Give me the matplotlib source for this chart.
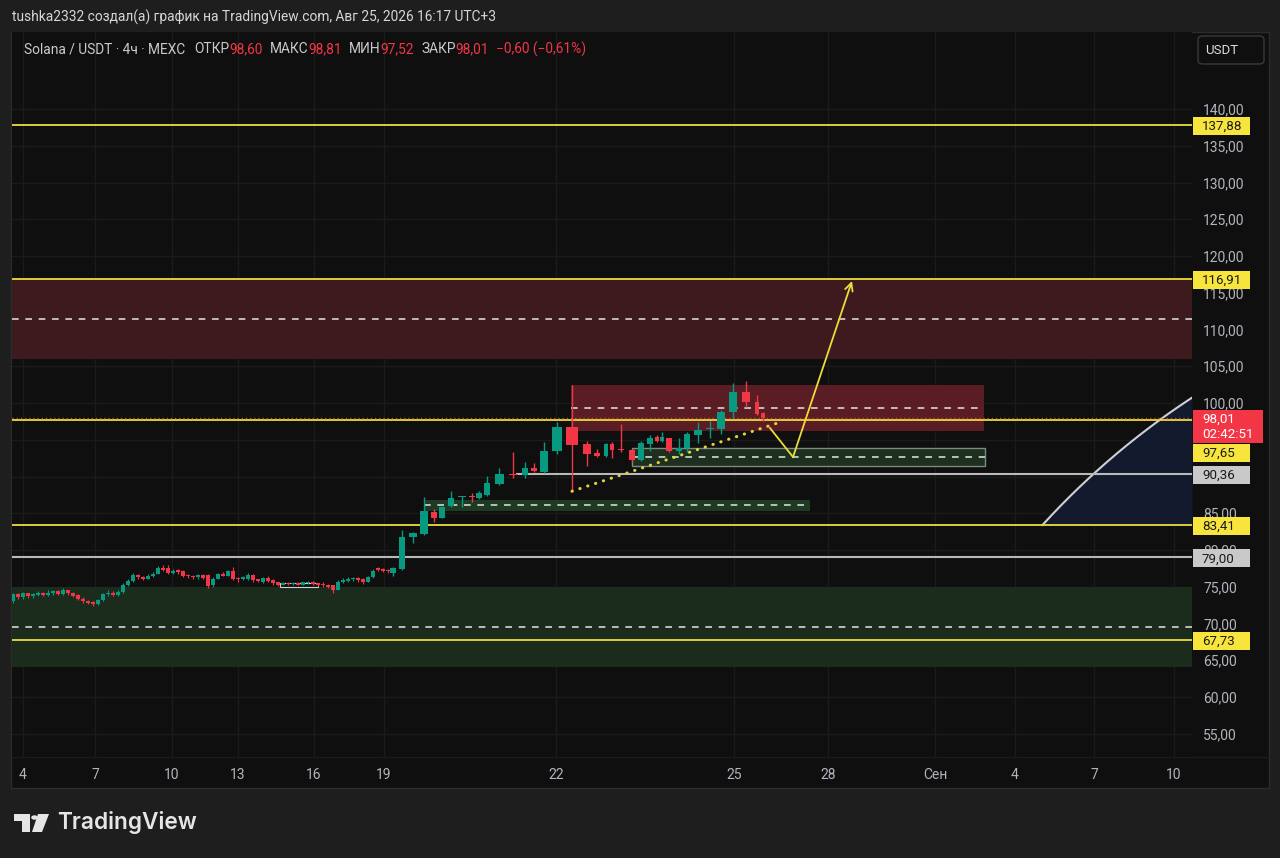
import numpy as np
import matplotlib
matplotlib.use('Agg')
import matplotlib.pyplot as plt
from matplotlib.patches import Rectangle, FancyBboxPatch, Polygon, Circle

plt.rcParams['font.family'] = ['Roboto', 'DejaVu Sans']

W, H = 1280, 858

# ---------------- data ----------------
early_open = [73.0, 74.0, 73.6, 74.1, 73.7, 73.9, 74.2, 73.9, 74.1, 74.4, 74.0, 74.5, 74.1, 73.9, 73.4, 73.1,
              72.9, 72.7, 73.2, 74.0, 74.2, 73.9, 74.3, 75.3, 75.8, 76.6, 76.3, 76.1, 76.5, 76.8, 77.5, 77.6,
              76.9, 77.3, 77.2, 76.6, 76.5, 76.3, 76.6, 76.6, 75.2, 76.1, 76.8, 76.5, 77.2, 76.2, 76.0, 76.0,
              76.6, 76.0, 75.7, 76.2, 75.9, 75.6, 75.3, 75.5, 75.4, 75.5, 75.3, 75.5, 75.7, 75.4, 75.4, 75.3,
              75.2, 74.6, 75.7, 75.8, 76.0, 76.2, 76.1, 75.7, 76.3, 77.5, 77.4, 77.3]
early_high = [74.2, 74.2, 74.3, 74.2, 74.2, 74.4, 74.3, 74.5, 74.6, 74.5, 74.8, 74.6, 74.3, 74.0, 73.6, 73.2,
              73.0, 73.3, 74.1, 74.6, 74.4, 74.5, 75.5, 76.0, 76.9, 76.8, 76.5, 76.7, 77.0, 77.8, 77.9, 77.9,
              77.4, 77.4, 77.3, 76.8, 76.6, 76.8, 76.7, 76.7, 76.3, 76.9, 77.0, 77.3, 77.7, 76.3, 76.5, 76.9,
              76.8, 76.1, 76.3, 76.4, 76.0, 75.7, 75.6, 75.6, 75.7, 75.6, 75.7, 75.8, 75.8, 75.5, 75.6, 75.4,
              75.3, 75.9, 76.2, 76.3, 76.3, 76.3, 76.2, 76.5, 77.4, 77.7, 77.5, 77.4]
early_low = [72.8, 73.4, 73.4, 73.5, 73.5, 73.7, 73.8, 73.8, 73.9, 73.9, 73.9, 73.9, 73.6, 73.2, 72.8, 72.6,
             72.4, 72.5, 73.0, 73.8, 73.7, 73.8, 74.2, 75.1, 75.6, 76.1, 75.9, 76.0, 76.3, 76.7, 77.1, 76.7,
             76.8, 76.7, 76.3, 76.2, 76.1, 76.1, 76.0, 74.9, 75.0, 76.0, 76.4, 76.4, 75.9, 75.7, 75.9, 75.9,
             75.6, 75.6, 75.5, 75.6, 75.3, 75.1, 75.2, 75.2, 75.3, 75.2, 75.2, 75.4, 75.2, 75.1, 75.0, 74.9,
             74.2, 74.5, 75.5, 75.6, 75.8, 75.7, 75.4, 75.6, 76.2, 77.2, 77.0, 76.9]
early_close = [74.0, 73.6, 74.1, 73.7, 74.0, 74.2, 73.9, 74.2, 74.4, 74.0, 74.6, 74.1, 73.8, 73.4, 73.0, 72.8,
               72.6, 73.2, 74.0, 74.2, 73.9, 74.3, 75.3, 75.8, 76.6, 76.3, 76.1, 76.5, 76.8, 77.5, 77.3, 76.9,
               77.2, 77.0, 76.5, 76.4, 76.3, 76.6, 76.2, 75.1, 76.1, 76.7, 76.5, 77.1, 76.0, 76.0, 76.3, 76.6,
               75.9, 75.8, 76.2, 75.8, 75.5, 75.3, 75.5, 75.4, 75.5, 75.3, 75.6, 75.7, 75.4, 75.3, 75.2, 75.0,
               74.5, 75.7, 75.9, 76.1, 76.2, 75.9, 75.6, 76.3, 77.2, 77.3, 77.2, 77.1]

# later 4h bars: time slot positions and OHLC
late_t = [76.2, 78.0, 80.2, 82.4, 84.4, 86.0, 87.8, 90.0, 92.0, 93.4, 95.0, 97.4, 100.2, 102.6, 104.4, 106.4,
          109.0, 112.0, 115.0, 117.0, 118.8, 120.0, 121.8, 124.0, 125.8, 127.6, 129.0, 130.0, 131.4, 133.4,
          135.0, 137.2, 139.6, 141.8, 144.2, 146.8, 149.0, 150.2]
late_open = [76.9, 77.4, 81.8, 82.2, 85.2, 84.4, 86.0, 87.2, 87.3, 87.1, 87.5, 89.0, 90.35, 90.2, 91.2, 90.6,
             93.5, 96.7, 94.4, 93.2, 92.8, 94.4, 93.65, 93.6, 92.2, 94.4, 95.4, 94.8, 95.2, 93.5,
             93.9, 95.6, 96.45, 96.5, 98.8, 101.5, 100.1, 98.60]
late_high = [77.7, 82.7, 82.4, 87.2, 85.6, 86.0, 88.0, 87.3, 87.8, 88.0, 90.1, 91.2, 93.3, 92.0, 91.9, 94.7,
             97.4, 102.5, 94.8, 93.8, 94.5, 94.7, 97.1, 93.8, 94.8, 95.6, 95.6, 96.1, 95.3, 95.2,
             96.1, 97.4, 97.6, 99.1, 102.7, 103.0, 101.1, 98.81]
late_low = [76.5, 77.3, 81.0, 82.1, 83.8, 84.3, 85.9, 85.9, 86.5, 87.0, 87.4, 88.9, 89.8, 89.8, 90.6, 90.5,
            93.0, 87.9, 91.4, 92.7, 92.7, 92.5, 93.3, 92.0, 92.1, 93.5, 94.7, 94.7, 93.4, 93.0,
            93.3, 94.6, 95.2, 95.8, 97.9, 99.4, 98.4, 97.52]
late_close = [77.6, 81.8, 82.3, 85.3, 84.4, 85.9, 87.1, 87.3, 87.2, 87.8, 89.1, 90.3, 90.25, 91.2, 90.7, 93.5,
              96.7, 94.3, 93.1, 92.8, 94.4, 93.6, 93.55, 92.2, 94.6, 95.2, 94.8, 95.4, 93.5, 93.9,
              95.8, 96.3, 96.55, 98.8, 101.5, 100.1, 98.5, 98.01]

change_abs = -0.60
change_pct = -0.61
countdown = '02:42:51'

price_ticks = [140, 135, 130, 125, 120, 115, 110, 105, 100, 95, 90, 85, 80, 75, 70, 65, 60, 55]
hidden_ticks = [95, 90]
date_pos = [2.2, 16.6, 32.0, 45.2, 60.4, 74.4, 108.8, 144.4, 163.2, 184.6, 200.6, 216.4, 232.4]
date_labels = ['4', '7', '10', '13', '16', '19', '22', '25', '28', 'Сен', '4', '7', '10']

yellow_levels = [137.88, 116.91, 97.65, 83.41, 67.73]
gray_levels = [90.36, 79.00]
gray_level_start = [101.0, 0.0]

# zones: (t_start, t_end, low, high)
red_zone_big = (0.0, 236.0, 106.0, 116.91)
red_zone_mid = (111.8, 194.4, 96.2, 102.45)
green_zone_big = (0.0, 236.0, 64.08, 74.97)
green_box_mid = (124.0, 194.6, 91.46, 93.92)
green_box_low = (82.4, 159.6, 85.35, 86.8)
small_box = (53.6, 61.2, 75.0, 75.5)

trend_t = [112.0, 153.2]
trend_p = [88.0, 97.3]
path_t = [151.6, 156.2, 168.0]
path_p = [96.6, 92.65, 116.6]

# ---------------- style ----------------
BG = '#1e1e1e'
PANEL = '#0f0f0f'
UP = '#089981'
DOWN = '#f23645'
YEL = '#ecdc3c'
TXT = '#b2b5be'

XMIN, XMAX = 0.0, 236.0
YMIN, YMAX = 51.84, 150.48
AX_L, AX_R, AX_T, AX_B = 12, 1192, 32, 757


def fx(px):
    return px / W


def fy(py):
    return 1 - py / H


fig = plt.figure(figsize=(W / 100, H / 100), dpi=100, facecolor=BG)

# panel
fig.add_artist(Rectangle((fx(11), fy(788)), (1269 - 11) / W, (788 - 32) / H, transform=fig.transFigure,
                         facecolor=PANEL, edgecolor='#2c2c2c', lw=1, zorder=-5))

ax = fig.add_axes([fx(AX_L), fy(AX_B), (AX_R - AX_L) / W, (AX_B - AX_T) / H])
ax.set_facecolor(PANEL)
ax.set_xlim(XMIN, XMAX)
ax.set_ylim(YMIN, YMAX)
for s in ax.spines.values():
    s.set_visible(False)

# grid
for p in price_ticks:
    ax.axhline(p, color='#1b1b1b', lw=1, zorder=0)
for t in date_pos:
    ax.axvline(t, color='#1b1b1b', lw=1, zorder=0)

# ticks
ax.yaxis.tick_right()
ax.set_yticks(price_ticks)
ax.set_yticklabels(['' if p in hidden_ticks else f'{p:.2f}'.replace('.', ',') for p in price_ticks])
ax.tick_params(axis='y', length=0, pad=8, labelsize=10, labelcolor=TXT)
ax.set_xticks(date_pos)
ax.set_xticklabels(date_labels)
ax.tick_params(axis='x', length=0, pad=8, labelsize=10, labelcolor=TXT)


def zone(z, fc, ec='none', lw=0, mid=True):
    t0, t1, lo, hi = z
    ax.add_patch(Rectangle((t0, lo), t1 - t0, hi - lo, facecolor=fc, edgecolor=ec, lw=lw, zorder=1))
    if mid:
        ax.plot([t0, t1], [(lo + hi) / 2] * 2, color='#d6d6d6', lw=1.2, dashes=(4, 4), zorder=2)


zone(red_zone_big, '#3c1a1e')
zone(green_zone_big, '#1b2c1d')
zone(red_zone_mid, '#5a1d24')
zone(green_box_mid, '#1d2f1f', ec='#7d8a7e', lw=1)
zone(green_box_low, '#1f3a23')
zone(small_box, 'none', ec='#d0d0d0', lw=0.8, mid=False)

# arc with fill
cx, cy, rx, ry = 321.0, 12.24, 155.4, 105.7
base = yellow_levels[3]
th0 = np.pi - np.arcsin((base - cy) / ry)
th1 = np.arccos((XMAX - cx) / rx)
th = np.linspace(th0, th1, 200)
arc_x = cx + rx * np.cos(th)
arc_y = cy + ry * np.sin(th)
ax.fill_between(arc_x, arc_y, base, color='#131a2d', lw=0, zorder=1)
ax.plot(arc_x, arc_y, color='#cfd0d6', lw=1.5, zorder=3)

# horizontal levels
for lv in yellow_levels:
    ax.axhline(lv, color=YEL, lw=1.3, zorder=3)
for lv, st in zip(gray_levels, gray_level_start):
    ax.plot([st, XMAX], [lv, lv], color='#b9b9b9', lw=1.5, zorder=3)

# current price dotted line
ax.axhline(late_close[-1], color='#c0503c', lw=1, dashes=(1, 2), zorder=3)


# candles
def candles(t, o, h, l, c, widths, wick_lw):
    t = np.asarray(t, float)
    o, h, l, c = (np.asarray(a, float) for a in (o, h, l, c))
    cols = np.where(c >= o, UP, DOWN)
    ax.vlines(t, l, h, colors=cols, lw=wick_lw, zorder=4)
    bottoms = np.minimum(o, c)
    heights = np.maximum(np.abs(c - o), 0.15)
    ax.bar(t, heights, width=widths, bottom=bottoms, color=cols, linewidth=0, zorder=5)


early_t = np.arange(len(early_open)) + 0.2
candles(early_t, early_open, early_high, early_low, early_close, 0.62, 0.8)

lt = np.asarray(late_t)
gaps = np.diff(lt)
left = np.concatenate([[gaps[0]], gaps])
right = np.concatenate([gaps, [gaps[-1]]])
late_w = np.clip(0.75 * np.minimum(left, right), 0.5, 2.4)
candles(late_t, late_open, late_high, late_low, late_close, late_w, 1.0)

# yellow dotted trend line
ax.plot(trend_t, trend_p, color='#e3d23a', lw=2.2, dashes=(0.1, 2.6), dash_capstyle='round', zorder=6)
# yellow path with arrow
ax.plot(path_t[:2], path_p[:2], color=YEL, lw=1.3, zorder=6)
ax.annotate('', xy=(path_t[2], path_p[2]), xytext=(path_t[1], path_p[1]),
            arrowprops=dict(arrowstyle='->', color=YEL, lw=1.3, mutation_scale=14, shrinkA=0, shrinkB=0),
            zorder=6)

# separator below plot
fig.add_artist(plt.Line2D([fx(11), fx(1269)], [fy(757), fy(757)], color='#1c1c1c', lw=1, zorder=-4))

# ---------------- price badges ----------------
scale = (AX_B - AX_T) / (YMAX - YMIN)


def ypx(p):
    return AX_T + (YMAX - p) * scale


def fmt(v):
    return f'{v:.2f}'.replace('.', ',').replace('-', '−')


badges = []
for lv in yellow_levels:
    badges.append(dict(p=lv, lines=[fmt(lv)], fc='#f7e43c', tc='#1a1a1a', w=57, h=18))
for lv in gray_levels:
    badges.append(dict(p=lv, lines=[fmt(lv)], fc='#c9c9c9', tc='#1a1a1a', w=57, h=18))
badges.append(dict(p=late_close[-1], lines=[fmt(late_close[-1]), countdown], fc='#f23645', tc='#ffffff', w=70, h=33))
badges.sort(key=lambda b: -b['p'])
prev_bottom = -1e9
for b in badges:
    top = ypx(b['p']) - 8
    top = max(top, prev_bottom + 1)
    prev_bottom = top + b['h']
    fig.add_artist(Rectangle((fx(1193), fy(top + b['h'])), b['w'] / W, b['h'] / H, transform=fig.transFigure,
                             facecolor=b['fc'], edgecolor='none', zorder=4))
    for k, line in enumerate(b['lines']):
        fig.text(fx(1202), fy(top + 9.5 + 15 * k), line, color=b['tc'], fontsize=9.6, va='center', ha='left',
                 zorder=5)

# USDT button
fig.add_artist(FancyBboxPatch((fx(1198), fy(64)), 66 / W, 28 / H, boxstyle='round,pad=0,rounding_size=0.004',
                              transform=fig.transFigure, facecolor=PANEL, edgecolor='#3a3a3a', lw=1, zorder=4))
fig.text(fx(1222), fy(50), 'USDT', color='#dcdcdc', fontsize=9.5, ha='center', va='center', zorder=5)

# ---------------- header & legend ----------------
fig.text(fx(12), fy(17), 'tushka2332 создал(а) график на TradingView.com, Авг 25, 2026 16:17 UTC+3',
         color='#d6d6d6', fontsize=9.9, va='center', ha='left')

renderer = fig.canvas.get_renderer()
GREY = '#c8cad0'
o_, h_, l_, c_ = late_open[-1], late_high[-1], late_low[-1], late_close[-1]
pieces = [('Solana / USDT · 4ч · MEXC', GREY, 24), ('ОТКР', GREY, 9), (fmt(o_), DOWN, 0),
          ('МАКС', GREY, 7), (fmt(h_), DOWN, 0), ('МИН', GREY, 7), (fmt(l_), DOWN, 0),
          ('ЗАКР', GREY, 7), (fmt(c_), DOWN, 0),
          (f'{fmt(change_abs)} ({fmt(change_pct)}%)', DOWN, 7)]
xcur = 0
for txt, col, gap in pieces:
    xcur += gap
    tt = fig.text(fx(xcur), fy(49), txt, color=col, fontsize=9.9, va='center', ha='left')
    bb = tt.get_window_extent(renderer)
    xcur += bb.width

# ---------------- TradingView logo ----------------
LOGO = '#e6e6e6'
fig.add_artist(Polygon([(fx(14), fy(814)), (fx(30), fy(814)), (fx(30), fy(832)), (fx(22), fy(832)),
                        (fx(22), fy(821)), (fx(14), fy(821))], closed=True, transform=fig.transFigure,
                       facecolor=LOGO, edgecolor='none'))
fig.add_artist(Circle((fx(34.5), fy(817.5)), 3.3 / W, transform=fig.transFigure, facecolor=LOGO, edgecolor='none'))
fig.add_artist(Polygon([(fx(38), fy(814)), (fx(49), fy(814)), (fx(42), fy(832)), (fx(32), fy(832))],
                       closed=True, transform=fig.transFigure, facecolor=LOGO, edgecolor='none'))
fig.text(fx(57), fy(823), 'TradingView', color=LOGO, fontsize=16.3, fontweight='semibold',
         family=['Inter', 'DejaVu Sans'], va='center', ha='left')

fig.savefig('out.png', dpi=100, facecolor=BG)
